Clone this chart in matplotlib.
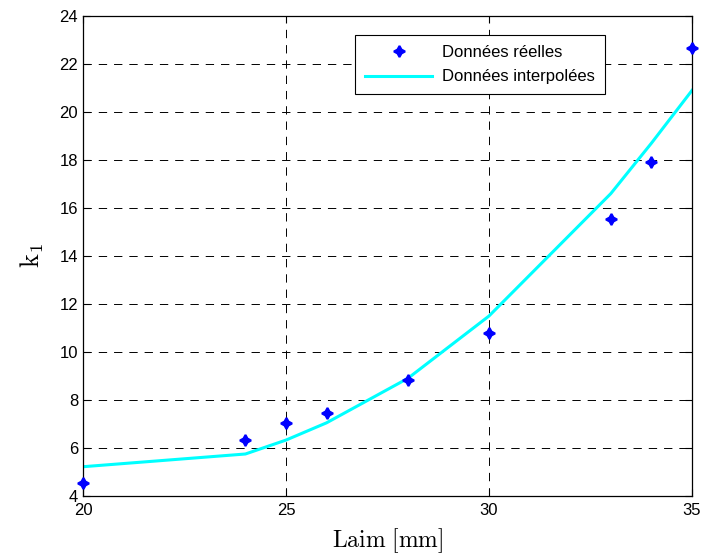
import matplotlib
matplotlib.use('Agg')
import matplotlib.pyplot as plt

# donnees
laim_pts = [20, 24, 25, 26, 28, 30, 33, 34, 35]
k1_reel = [4.55, 6.32, 7.03, 7.44, 8.85, 10.8, 15.54, 17.93, 22.65]
k1_interp = [5.22, 5.75, 6.33, 7.05, 8.9, 11.5, 16.6, 18.7, 20.9]

xticks = [20, 25, 30, 35]
yticks = [4, 6, 8, 10, 12, 14, 16, 18, 20, 22, 24]

plt.rcParams['font.family'] = ['Liberation Sans', 'DejaVu Sans']
plt.rcParams['mathtext.fontset'] = 'cm'
plt.rcParams['lines.scale_dashes'] = False

fig = plt.figure(figsize=(7.02, 5.56), dpi=100)
ax = fig.add_axes([83 / 702, 60 / 556, 609 / 702, 480 / 556])

ax.plot(laim_pts, k1_reel, linestyle='none', marker=(4, 1, 0), markersize=8,
        color='blue', markeredgewidth=1.5, label='Données réelles', clip_on=False, zorder=3)
ax.plot(laim_pts, k1_interp, color='cyan', linewidth=2.2, label='Données interpolées')

ax.set_xlim(20, 35)
ax.set_ylim(4, 24)
ax.set_xticks(xticks)
ax.set_yticks(yticks)
ax.tick_params(direction='in', top=True, right=True, labelsize=12, length=5, width=0.8)
ax.tick_params(axis='x', pad=5)
ax.grid(True, color='black', linestyle=(0, (6, 5)), linewidth=0.7)
for s in ax.spines.values():
    s.set_linewidth(0.9)

ax.set_xlabel(r'$\mathrm{Laim\ [mm]}$', fontsize=17, labelpad=6)
ax.set_ylabel(r'$\mathrm{k}_1$', fontsize=19, labelpad=10)

leg = ax.legend(loc='upper left', bbox_to_anchor=(0.447, 0.96), fontsize=12,
                frameon=True, fancybox=False, edgecolor='black', framealpha=1,
                borderaxespad=0, borderpad=0.6, handlelength=4.0, handletextpad=0.6,
                labelspacing=0.55)
leg.get_frame().set_linewidth(0.8)

fig.savefig('out.png', dpi=100)
